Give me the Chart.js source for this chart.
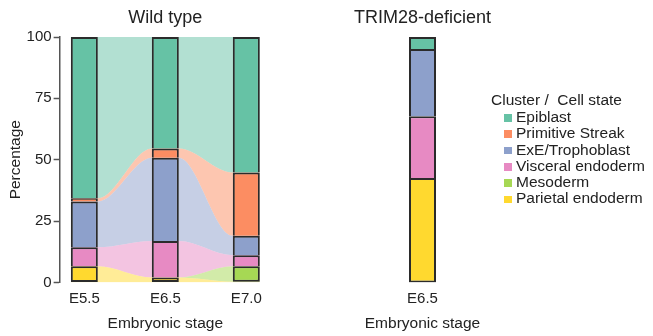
<!DOCTYPE html>
<html>
<head>
<meta charset="utf-8">
<script src="https://cdn.jsdelivr.net/npm/chart.js@4.4.1/dist/chart.umd.min.js"></script>
<style>
  body { margin: 0; width: 653px; height: 336px; background: #fff; position: relative; overflow: hidden;
         font-family: "Liberation Sans", Arial, sans-serif; color: #222; }
  #wt { position: absolute; left: 0; top: 0; }
  #ko { position: absolute; left: 346px; top: 0; }
  #legend { position: absolute; left: 491px; top: 90px; font-size: 15.5px; }
  #legend .title { line-height: 19px; white-space: pre; }
  #legend .item { height: 16.3px; line-height: 16.3px; white-space: nowrap; }
  #legend .swatch { display: inline-block; width: 7.5px; height: 7.5px; margin: 0 4.5px 0 13px; vertical-align: middle; }
</style>
</head>
<body>
<canvas id="wt" width="272" height="336"></canvas>
<canvas id="ko" width="153" height="336"></canvas>
<div id="legend"></div>
<script>
// stages and cell states
const stages = ['E5.5', 'E6.5', 'E7.0'];
const cellStates = ['Epiblast', 'Primitive Streak', 'ExE/Trophoblast', 'Visceral endoderm', 'Mesoderm', 'Parietal endoderm'];
const yTicks = [0, 25, 50, 75, 100];

// wild type, percentage of cells at E5.5 / E6.5 / E7.0
const epiblast = [65.7, 45.4, 55.2];
const primitiveStreak = [1.3, 3.8, 25.8];
const exeTrophoblast = [18.7, 33.9, 7.9];
const visceralEndoderm = [7.7, 14.9, 4.5];
const mesoderm = [0, 0, 6.3];
const parietalEndoderm = [6.6, 2.0, 0.3];

// TRIM28-deficient, E6.5 only (same order as cellStates)
const trim28Stage = ['E6.5'];
const trim28 = [4.9, 0, 27.4, 25.2, 0, 42.5];

const colours = ['#66C2A5', '#FC8D62', '#8DA0CB', '#E78AC3', '#A6D854', '#FFD92F'];
const flowColours = ['rgba(102,194,165,0.5)', 'rgba(252,141,98,0.5)', 'rgba(141,160,203,0.5)',
                     'rgba(231,138,195,0.5)', 'rgba(166,216,84,0.5)', 'rgba(255,217,47,0.5)'];

const FONT = '"Liberation Sans", Arial, sans-serif';
Chart.defaults.font.family = FONT;
Chart.defaults.color = '#222';

const wildType = [epiblast, primitiveStreak, exeTrophoblast, visceralEndoderm, mesoderm, parietalEndoderm];
const stackOrder = [5, 4, 3, 2, 1, 0]; // bottom of the bar to top

// lower / upper edge of every cell state at every stage
function edges(table, n) {
    let lower = [], upper = [];
    let running = new Array(n).fill(0);
    stackOrder.forEach(k => {
        lower[k] = running.slice();
        running = running.map((v, i) => v + table[k][i]);
        upper[k] = running.slice();
    });
    return {lower, upper};
}
const wt = edges(wildType, stages.length);
const ko = edges(trim28.map(v => [v]), 1);

// flows run from the right side of one bar to the left side of the next
const halfBar = 1 / 6;
function flowPoints(level) {
    let pts = [];
    level.forEach((v, i) => {
        pts.push({x: i - halfBar, y: v});
        pts.push({x: i + halfBar, y: v});
    });
    return pts;
}

const segBase = raw => Array.isArray(raw) ? raw[0] : raw.y[0];
const barStyle = {
    type: 'bar',
    borderColor: '#2b2b2b',
    borderWidth: 2,
    borderSkipped: c => segBase(c.raw) < 0.5 ? false : 'start',
    inflateAmount: 0,
    grouped: false,
    categoryPercentage: 1,
    order: 0
};

function commonOptions(title) {
    return {
        responsive: false,
        animation: false,
        events: [],
        layout: {padding: {top: 0, bottom: 3, left: 6, right: 1}},
        plugins: {
            legend: {display: false},
            tooltip: {enabled: false},
            title: {display: true, text: title, fullSize: false, color: '#222',
                    font: {size: 18, weight: 'normal'}, padding: {top: 7, bottom: 8.4}}
        },
        scales: {
            x: {
                offset: false,
                grid: {display: false, drawTicks: false, offset: false},
                border: {display: false},
                ticks: {autoSkip: false, maxRotation: 0, padding: 7, color: '#222', font: {size: 15}},
                title: {display: true, text: 'Embryonic stage', color: '#222', font: {size: 15.5}, padding: {top: 0, bottom: 0}}
            },
            y: {
                min: 0, max: 100,
                afterBuildTicks: axis => { axis.ticks = yTicks.map(v => ({value: v})); },
                grid: {drawOnChartArea: false, tickLength: 6, tickColor: '#555', tickWidth: 1.5},
                border: {color: '#555', width: 1.5},
                ticks: {padding: 2, color: '#222', font: {size: 15}},
                title: {display: true, text: 'Percentage', color: '#222', font: {size: 15.5}, padding: 0}
            }
        }
    };
}

// WILD TYPE
let wtOptions = commonOptions('Wild type');
Object.assign(wtOptions.scales.x, {type: 'linear', min: -0.305, max: 2.305});
Object.assign(wtOptions.scales.x.ticks, {stepSize: 1, includeBounds: false, callback: v => stages[v]});

let flowSets = stackOrder.map((k, n) => ({
    type: 'line',
    data: flowPoints(wt.upper[k]),
    fill: n === 0 ? 'origin' : '-1',
    backgroundColor: flowColours[k],
    borderColor: 'transparent',
    borderWidth: 0,
    pointRadius: 0,
    cubicInterpolationMode: 'monotone',
    order: 1
}));
let wtBars = stackOrder.map(k => Object.assign({}, barStyle, {
    label: cellStates[k],
    data: stages.map((s, i) => ({x: i, y: [wt.lower[k][i], wt.upper[k][i]]})),
    backgroundColor: colours[k],
    barPercentage: 1 / 3
}));

let ctx = document.getElementById('wt').getContext('2d');
let chart = new Chart(ctx, {
    type: 'bar',
    data: {datasets: flowSets.concat(wtBars)},
    options: wtOptions
});

// TRIM28-DEFICIENT
let koOptions = commonOptions('TRIM28-deficient');
koOptions.layout.padding = {top: 0, bottom: 3, left: 1, right: 1};
koOptions.scales.x.type = 'category';
koOptions.scales.x.offset = true;
koOptions.scales.y.display = false;

let koBars = stackOrder.map(k => Object.assign({}, barStyle, {
    label: cellStates[k],
    data: [[ko.lower[k][0], ko.upper[k][0]]],
    backgroundColor: colours[k],
    barPercentage: 1,
    maxBarThickness: 27
}));

let ctx_2 = document.getElementById('ko').getContext('2d');
let chart_2 = new Chart(ctx_2, {
    type: 'bar',
    data: {labels: trim28Stage, datasets: koBars},
    options: koOptions
});

// LEGEND
let legend = document.getElementById('legend');
let html = '<div class="title">Cluster /  Cell state</div>';
cellStates.forEach((name, k) => {
    html += '<div class="item"><span class="swatch" style="background:' + colours[k] + '"></span>' + name + '</div>';
});
legend.innerHTML = html;
</script>
</body>
</html>
